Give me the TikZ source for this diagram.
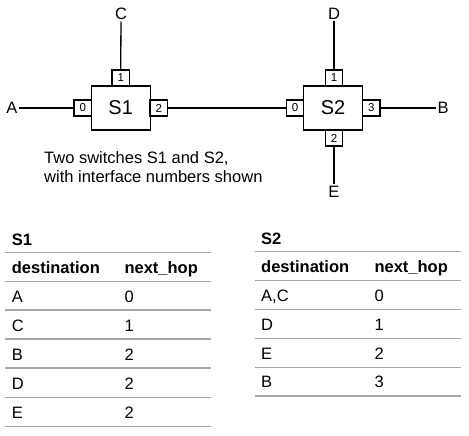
\documentclass[tikz,border=0pt]{standalone}
\usepackage{fontspec}
\setmainfont{Liberation Sans}
\begin{document}
\begin{tikzpicture}[x=1pt,y=-1pt,
  switchbox/.style={draw,line width=1.4pt,minimum width=59pt,minimum height=44pt,inner sep=0pt,font=\fontsize{20}{24}\selectfont},
  portbox/.style={draw,fill=white,line width=1.3pt,minimum width=17.3pt,minimum height=16pt,inner sep=0pt,font=\fontsize{11.5}{13}\selectfont},
  endlabel/.style={inner sep=1.5pt,font=\fontsize{16.5}{19}\selectfont},
  wire/.style={line width=1.3pt},
  cell/.style={anchor=base west,inner sep=0pt,font=\fontsize{16.5}{19}\selectfont},
  headcell/.style={cell,font=\fontsize{16.5}{19}\selectfont\bfseries},
  rule/.style={draw=black!35,line width=1.3pt}]
\useasboundingbox (0,0) rectangle (469,436);
\fill[white] (0,0) rectangle (469,436);

% switches
\node[switchbox] (s1) at (120.7,108) {S1};
\node[portbox] (s1p1) at (120.7,78) {1};
\node[portbox] (s1p0) at (82.7,108) {0};
\node[portbox] (s1p2) at (158.7,108) {2};

\node[switchbox] (s2) at (333,108) {S2};
\node[portbox] (s2p1) at (334,78) {1};
\node[portbox] (s2p0) at (295,108) {0};
\node[portbox] (s2p3) at (371.3,108) {3};
\node[portbox] (s2p2) at (334,138) {2};

% end points
\node[endlabel] (A) at (12,108) {A};
\node[endlabel] (C) at (121,14) {C};
\node[endlabel] (D) at (334,14) {D};
\node[endlabel] (B) at (443,108) {B};
\node[endlabel] (E) at (334,191.5) {E};

\draw[wire] (A) -- (s1p0);
\draw[wire] (C) -- (s1p1);
\draw[wire] (s1p2) -- (s2p0);
\draw[wire] (D) -- (s2p1);
\draw[wire] (s2p3) -- (B);
\draw[wire] (s2p2) -- (E);

% caption
\node[cell] (cap1) at (44,164) {Two switches S1 and S2,};
\node[cell] (cap2) at (44,182.7) {with interface numbers shown};

% table S1
\node[headcell] (t1title) at (11.7,245) {S1};
\foreach \yy in {252.3,281.3,310,339,368,397.3,426.3}
  \draw[rule] (4.7,\yy) -- (210.7,\yy);
\node[headcell] (t1h1) at (11.7,273.3) {destination};
\node[headcell] (t1h2) at (124.3,273.3) {next\_hop};
\foreach \d/\n [count=\i] in {A/0,C/1,B/2,D/2,E/2}{
  \node[cell] (t1d\i) at (11.7,273.3+29*\i) {\d};
  \node[cell] (t1n\i) at (124.3,273.3+29*\i) {\n};
}

% table S2
\node[headcell] (t2title) at (261,244.7) {S2};
\foreach \yy in {251.7,280.7,309.5,338.3,367.2,396}
  \draw[rule] (255,\yy) -- (460.7,\yy);
\node[headcell] (t2h1) at (261,272.7) {destination};
\node[headcell] (t2h2) at (374.3,272.7) {next\_hop};
\foreach \d/\n [count=\i] in {{A,C}/0,D/1,E/2,B/3}{
  \node[cell] (t2d\i) at (261,272.7+28.8*\i) {\d};
  \node[cell] (t2n\i) at (374.3,272.7+28.8*\i) {\n};
}
\end{tikzpicture}
\end{document}
